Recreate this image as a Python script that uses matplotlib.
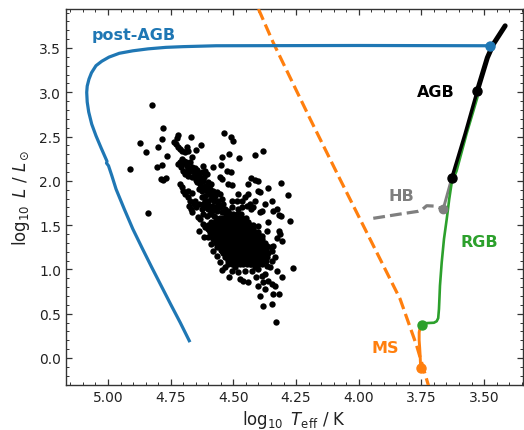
import matplotlib
matplotlib.use("Agg")
import matplotlib.pyplot as plt
from matplotlib.ticker import MultipleLocator

# ---------------- data (log10 Teff, log10 L) ----------------
ms_logT = [3.753, 3.755, 3.757, 3.759, 3.759, 3.755, 3.749]
ms_logL = [-0.117, 0.026, 0.12, 0.2, 0.29, 0.345, 0.376]

zams_logT = [4.40, 4.341, 4.194, 4.075, 3.942, 3.835, 3.769, 3.722]
zams_logL = [3.94, 3.56, 2.70, 2.02, 1.27, 0.666, 0.139, -0.31]

rgb_logT = [3.749, 3.735, 3.722, 3.700, 3.689, 3.683, 3.680, 3.678, 3.676, 3.669,
            3.660, 3.649, 3.639, 3.629, 3.610, 3.570, 3.527]
rgb_logL = [0.376, 0.392, 0.395, 0.398, 0.415, 0.45, 0.553, 0.68, 0.816, 1.080,
            1.343, 1.569, 1.795, 1.983, 2.11, 2.53, 2.94]

hb_logT = [3.663, 3.629]
hb_logL = [1.682, 2.03]
hbzahb_logT = [3.942, 3.835, 3.80, 3.765, 3.745, 3.729, 3.70, 3.663]
hbzahb_logL = [1.577, 1.625, 1.64, 1.655, 1.68, 1.719, 1.715, 1.682]

agb_low_logT = [3.629, 3.576, 3.527]
agb_low_logL = [2.03, 2.528, 3.017]
agb_up_logT = [3.527, 3.487, 3.463, 3.416]
agb_up_logL = [3.017, 3.39, 3.544, 3.75]

pagb_logT = [3.476, 4.0, 4.569, 4.70, 4.769, 4.84, 4.901, 4.955, 4.996, 5.025,
             5.048, 5.066, 5.076, 5.083, 5.085, 5.083, 5.077, 5.065, 5.048, 5.028,
             5.008, 5.004, 5.006, 4.998, 4.985, 4.968, 4.935, 4.901, 4.862, 4.825,
             4.787, 4.749, 4.712, 4.676]
pagb_logL = [3.525, 3.528, 3.525, 3.515, 3.507, 3.49, 3.468, 3.44, 3.397, 3.35,
             3.30, 3.22, 3.148, 3.07, 2.999, 2.89, 2.777, 2.64, 2.509, 2.375,
             2.246, 2.22, 2.20, 2.17, 2.06, 1.907, 1.68, 1.456, 1.23, 1.02,
             0.81, 0.60, 0.40, 0.195]

# key points
ms_end = (3.749, 0.376)
ms_start = (3.753, -0.117)
hb_start = (3.663, 1.682)
rgb_tip = (3.629, 2.03)
agb_mid = (3.527, 3.017)
pagb_start = (3.476, 3.525)

# observed stars (sparse part)
stars = [
    (4.823, 2.856), (4.779, 2.592), (4.872, 2.423), (4.786, 2.472), (4.848, 2.322),
    (4.799, 2.378), (4.763, 2.280), (4.911, 2.133), (4.806, 2.152), (4.786, 2.182),
    (4.788, 2.021), (4.779, 2.009), (4.768, 2.032), (4.842, 1.633),
    (4.719, 2.521), (4.726, 2.483), (4.735, 2.434), (4.730, 2.416), (4.722, 2.378),
    (4.713, 2.359), (4.706, 2.340), (4.686, 2.386), (4.679, 2.340), (4.693, 2.322),
    (4.669, 2.498), (4.629, 2.404), (4.650, 2.348), (4.666, 2.265), (4.713, 2.209),
    (4.703, 2.190), (4.695, 2.228), (4.686, 2.171), (4.679, 2.133), (4.666, 2.160),
    (4.673, 2.209), (4.659, 2.096), (4.646, 2.122), (4.693, 2.077), (4.679, 2.058),
    (4.666, 2.039), (4.653, 2.058), (4.639, 2.077), (4.633, 2.021), (4.620, 2.171),
    (4.613, 2.115), (4.606, 2.077), (4.616, 2.047), (4.646, 1.983), (4.633, 1.964),
    (4.620, 1.994), (4.613, 1.945), (4.600, 1.983), (4.593, 1.908), (4.606, 1.889),
    (4.626, 1.889), (4.639, 1.908), (4.713, 1.964), (4.706, 1.927), (4.699, 1.889),
    (4.693, 1.851), (4.679, 1.881), (4.666, 1.859), (4.682, 1.814), (4.673, 1.776),
    (4.677, 1.720), (4.670, 1.682), (4.666, 1.644), (4.653, 1.776), (4.639, 1.739),
    (4.626, 1.814), (4.613, 1.833), (4.600, 1.776), (4.593, 1.851), (4.580, 1.889),
    (4.573, 1.833), (4.566, 1.870), (4.553, 1.851), (4.560, 1.776), (4.546, 1.795),
    (4.613, 1.701), (4.600, 1.682), (4.626, 1.682), (4.620, 1.626), (4.606, 1.607),
    (4.586, 1.720), (4.573, 1.701), (4.560, 1.739), (4.536, 2.536), (4.509, 2.498),
    (4.500, 2.453), (4.546, 2.265), (4.517, 2.303), (4.476, 2.261), (4.580, 2.152),
    (4.549, 2.179), (4.526, 2.115), (4.509, 2.096), (4.546, 2.021), (4.553, 2.039),
    (4.520, 1.964), (4.506, 1.957), (4.480, 1.851), (4.486, 1.776), (4.506, 1.776),
    (4.413, 2.295), (4.383, 2.340), (4.429, 2.028), (4.413, 2.009), (4.400, 2.002),
    (4.443, 1.964), (4.400, 1.889), (4.393, 1.870), (4.360, 1.915), (4.310, 1.976),
    (4.283, 1.840), (4.433, 1.739), (4.429, 1.682), (4.393, 1.644), (4.384, 1.656),
    (4.340, 1.663), (4.320, 1.618), (4.310, 1.607), (4.360, 1.539), (4.274, 1.543),
    (4.480, 1.682), (4.467, 1.701), (4.403, 1.494), (4.367, 1.438), (4.320, 1.438),
    (4.314, 1.400), (4.327, 1.355), (4.340, 1.268), (4.307, 1.325), (4.349, 1.249),
    (4.642, 1.596), (4.633, 1.569), (4.620, 1.513), (4.613, 1.475), (4.639, 1.438),
    (4.616, 1.370), (4.593, 1.438), (4.566, 1.249), (4.546, 1.212), (4.533, 1.137),
    (4.546, 0.994), (4.520, 1.061), (4.516, 0.911), (4.493, 1.024), (4.473, 0.892),
    (4.460, 0.873), (4.443, 0.854), (4.427, 0.986), (4.409, 0.918), (4.387, 0.930),
    (4.373, 0.949), (4.360, 0.873), (4.380, 0.854), (4.400, 0.817), (4.393, 0.704),
    (4.373, 0.779), (4.347, 0.836), (4.334, 0.817), (4.327, 0.986), (4.307, 0.918),
    (4.340, 0.723), (4.318, 0.723), (4.380, 0.591), (4.347, 0.610), (4.330, 0.411),
    (4.264, 1.017), (4.353, 1.024),
    (4.706, 2.246), (4.690, 2.209), (4.682, 2.096), (4.669, 2.115), (4.655, 2.145),
    (4.650, 2.009), (4.637, 2.039), (4.626, 2.096), (4.629, 1.927), (4.616, 1.908),
    (4.602, 1.934), (4.589, 1.964), (4.584, 1.851), (4.600, 1.851), (4.589, 1.795),
    (4.576, 1.776), (4.613, 1.776), (4.623, 1.739), (4.600, 1.731), (4.584, 1.663),
    (4.566, 1.663), (4.553, 1.701), (4.540, 1.739), (4.533, 1.682), (4.546, 1.644),
    (4.520, 1.663), (4.506, 1.701), (4.593, 1.626), (4.576, 1.607), (4.650, 1.701),
    (4.659, 1.739), (4.719, 2.190), (4.709, 2.152), (4.699, 2.107),
    (4.347, 1.212), (4.334, 1.137), (4.347, 1.099), (4.367, 1.043), (4.400, 1.005),
    (4.453, 0.986), (4.480, 0.967), (4.506, 0.986), (4.533, 1.024), (4.553, 1.080),
    (4.566, 1.155), (4.580, 1.212), (4.589, 1.287), (4.600, 1.363), (4.433, 1.061),
    (4.413, 1.031),
    (4.453, 1.814), (4.440, 1.851), (4.467, 1.776), (4.447, 1.720), (4.413, 1.776),
    (4.420, 1.701), (4.373, 1.739), (4.347, 1.776), (4.327, 1.682),
]

# observed stars (dense core), rows of equal log L
core_rows = [
    (1.62, [4.53, 4.515, 4.50, 4.485, 4.47]),
    (1.58, [4.57, 4.555, 4.54, 4.525, 4.51, 4.495, 4.48, 4.465, 4.45]),
    (1.54, [4.59, 4.575, 4.56, 4.545, 4.53, 4.515, 4.50, 4.485, 4.47, 4.455, 4.44]),
    (1.50, [4.60, 4.585, 4.57, 4.555, 4.54, 4.525, 4.51, 4.495, 4.48, 4.465, 4.45, 4.435, 4.42]),
    (1.46, [4.60, 4.585, 4.57, 4.555, 4.54, 4.525, 4.51, 4.495, 4.48, 4.465, 4.45, 4.435, 4.42]),
    (1.42, [4.595, 4.58, 4.565, 4.55, 4.535, 4.52, 4.505, 4.49, 4.475, 4.46, 4.445, 4.43, 4.415, 4.40]),
    (1.38, [4.59, 4.575, 4.56, 4.545, 4.53, 4.515, 4.50, 4.485, 4.47, 4.455, 4.44, 4.425, 4.41, 4.395, 4.385]),
    (1.34, [4.58, 4.565, 4.55, 4.535, 4.52, 4.505, 4.49, 4.475, 4.46, 4.445, 4.43, 4.415, 4.40, 4.385]),
    (1.30, [4.57, 4.555, 4.54, 4.525, 4.51, 4.495, 4.48, 4.465, 4.45, 4.435, 4.42, 4.405, 4.39, 4.375]),
    (1.26, [4.56, 4.545, 4.53, 4.515, 4.50, 4.485, 4.47, 4.455, 4.44, 4.425, 4.41, 4.395, 4.38, 4.365]),
    (1.22, [4.55, 4.535, 4.52, 4.505, 4.49, 4.475, 4.46, 4.445, 4.43, 4.415, 4.40, 4.385, 4.37]),
    (1.18, [4.54, 4.525, 4.51, 4.495, 4.48, 4.465, 4.45, 4.435, 4.42, 4.405, 4.39, 4.375, 4.36]),
    (1.14, [4.53, 4.515, 4.50, 4.485, 4.47, 4.455, 4.44, 4.425, 4.41, 4.395, 4.38, 4.365]),
    (1.10, [4.52, 4.505, 4.49, 4.475, 4.46, 4.445, 4.43, 4.415, 4.40, 4.385, 4.37]),
    (1.06, [4.505, 4.49, 4.475, 4.46, 4.445, 4.43, 4.415, 4.40, 4.385]),
]

star_logT = [p[0] for p in stars] + [t for L, row in core_rows for t in row]
star_logL = [p[1] for p in stars] + [L for L, row in core_rows for t in row]

# ---------------- plotting ----------------
BLUE, ORANGE, GREEN, GRAY = "#1f77b4", "#ff7f0e", "#2ca02c", "#7f7f7f"
TXT = "#222222"

fig = plt.figure(figsize=(5.24, 4.31), dpi=100)
ax = fig.add_axes([0.126, 0.1044, 0.872, 0.8724])

ax.scatter(star_logT, star_logL, s=21, c="black", linewidths=0, zorder=2)

ax.plot(zams_logT, zams_logL, ls="--", color=ORANGE, lw=2.3, zorder=3)
ax.plot(ms_logT, ms_logL, color=ORANGE, lw=2.1, zorder=4)
ax.plot(hbzahb_logT, hbzahb_logL, ls="--", color=GRAY, lw=2.3, zorder=3)
ax.plot(hb_logT, hb_logL, color=GRAY, lw=2.1, zorder=4)
ax.plot(rgb_logT, rgb_logL, color=GREEN, lw=1.9, zorder=4)
ax.plot(agb_low_logT, agb_low_logL, color="black", lw=2.5, zorder=5)
ax.plot(agb_up_logT, agb_up_logL, color="black", lw=3.6, zorder=5,
        solid_capstyle="round")
ax.plot(pagb_logT, pagb_logL, color=BLUE, lw=2.3, zorder=6)

ax.plot(*ms_start, "o", color=ORANGE, ms=6.5, zorder=7)
ax.plot(*ms_end, "o", color=GREEN, ms=6.5, zorder=7)
ax.plot(*hb_start, "o", color=GRAY, ms=6, zorder=7)
ax.plot(*rgb_tip, "o", color="black", ms=6.5, zorder=7)
ax.plot(*agb_mid, "o", color="black", ms=6.5, zorder=7)
ax.plot(*pagb_start, "o", color=BLUE, ms=6.5, zorder=7)

kw = dict(fontsize=11.5, fontweight="bold", ha="left", va="center", zorder=8)
ax.text(5.064, 3.65, "post-AGB", color=BLUE, **kw)
ax.text(3.769, 3.013, "AGB", color="black", **kw)
ax.text(3.883, 1.838, "HB", color=GRAY, **kw)
ax.text(3.596, 1.32, "RGB", color=GREEN, **kw)
ax.text(3.948, 0.122, "MS", color=ORANGE, **kw)

ax.set_xlim(5.1675, 3.345)
ax.set_ylim(-0.305, 3.94)
ax.xaxis.set_major_locator(MultipleLocator(0.25))
ax.xaxis.set_minor_locator(MultipleLocator(0.05))
ax.yaxis.set_major_locator(MultipleLocator(0.5))
ax.yaxis.set_minor_locator(MultipleLocator(0.1))
ax.tick_params(which="both", direction="in", top=True, right=True,
               colors="#333333", labelcolor=TXT, labelsize=10)
ax.tick_params(which="major", length=4, width=0.9)
ax.tick_params(which="minor", length=2.2, width=0.7)
for s in ax.spines.values():
    s.set_color("#333333")
    s.set_linewidth(1.0)

ax.set_xlabel(r"$\log_{10}$ $T_\mathrm{eff}$ / K", fontsize=12, color=TXT, labelpad=3)
ax.set_ylabel(r"$\log_{10}$ $L$ / $L_\odot$", fontsize=12, color=TXT, labelpad=5)

fig.savefig("out.png", dpi=100)
